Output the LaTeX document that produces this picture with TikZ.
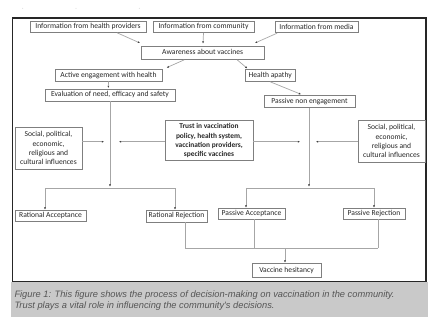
\documentclass[tikz,border=0pt]{standalone}
\usepackage{fontspec}
\setmainfont{Carlito}
\newfontfamily\capfont{Liberation Sans}
\usetikzlibrary{arrows.meta,calc}
\definecolor{boxline}{HTML}{7F7F7F}
\definecolor{connline}{HTML}{A6A6A6}
\definecolor{captxt}{HTML}{555555}
\definecolor{capbg}{HTML}{C9C9C9}
\begin{document}
\begin{tikzpicture}[x=1pt,y=-1pt,
  box/.style={draw=boxline, line width=0.7pt, inner sep=0pt, align=center,
    font=\fontsize{7.6}{9.2}\selectfont, text=black!85,
    text height=5.4pt, text depth=1.7pt},
  mbox/.style={draw=boxline, line width=0.7pt, inner sep=0pt, align=center,
    font=\fontsize{7.6}{9.2}\selectfont, text=black!85},
  conn/.style={draw=connline, line width=0.7pt},
  arr/.style={conn, -{Latex[length=2.2pt,width=2pt,color=black!75]}},
]
\useasboundingbox (0,0) rectangle (439,331);
% faint marks at top
\foreach \px in {22.7,76,139.3} \fill[black!30] (\px,8.3) circle (0.4);
% caption band
\fill[capbg] (11,282.3) rectangle (427.5,316.7);
% frame
\draw[line width=1.6pt, black!85] (12.5,18) rectangle (426,281.5);

% nodes
\node[box, minimum width=116pt, minimum height=10.8pt] (hp)  at (88,27.1)   {Information from health providers};
\node[box, minimum width=101pt, minimum height=10.8pt] (com) at (203.5,27.1) {Information from community};
\node[box, minimum width=83pt,  minimum height=11.2pt] (med) at (316.5,27.2) {Information from media};
\node[box, minimum width=122.5pt, minimum height=13.2pt] (aw) at (202.7,52.9) {Awareness about vaccines};
\node[box, minimum width=107pt, minimum height=11.5pt] (act) at (108.5,75.2) {Active engagement with health};
\node[box, minimum width=130pt, minimum height=12pt]   (eva) at (110,95)    {Evaluation of need, efficacy and safety};
\node[box, minimum width=50.5pt, minimum height=12.5pt] (apa) at (270.2,75.2) {Health apathy};
\node[box, minimum width=91pt,  minimum height=12.3pt] (pne) at (309.5,101.2) {Passive non engagement};
\node[mbox, minimum width=67pt, minimum height=42pt] (socL) at (48.5,148)
  {Social, political,\\ economic,\\ religious and\\ cultural influences};
\node[mbox, minimum width=88pt, minimum height=39.5pt, font=\fontsize{7.4}{9.1}\selectfont\bfseries] (trust) at (209,140.6)
  {Trust in vaccination\\ policy, health system,\\ vaccination providers,\\ specific vaccines};
\node[mbox, minimum width=67pt, minimum height=42pt] (socR) at (391.5,141)
  {Social, political,\\ economic,\\ religious and\\ cultural influences};
\node[box, minimum width=71pt, minimum height=11.7pt] (ra) at (50.5,215.8) {Rational Acceptance};
\node[box, minimum width=61pt, minimum height=12pt]   (rr) at (176.5,216)  {Rational Rejection};
\node[box, minimum width=67pt, minimum height=11pt]   (pa) at (251.5,213.5) {Passive Acceptance};
\node[box, minimum width=62pt, minimum height=11pt]   (pr) at (374,213.5)  {Passive Rejection};
\node[box, minimum width=69pt, minimum height=14.7pt] (vh) at (286.5,270.3) {Vaccine hesitancy};

% caption
\node[anchor=base west, inner sep=0pt, text=captxt, font=\capfont\itshape\fontsize{9.3}{11}\selectfont] (cap1) at (14.3,297.6)
  {Figure 1: This figure shows the process of decision-making on vaccination in the community.};
\node[anchor=base west, inner sep=0pt, text=captxt, font=\capfont\itshape\fontsize{9.3}{11}\selectfont] (cap2) at (14.3,308.8)
  {Trust plays a vital role in influencing the community's decisions.};

% helper coordinates
\coordinate (awL)  at (140,43);
\coordinate (awC)  at (203,43.6);
\coordinate (awR)  at (255,43);
\coordinate (actT) at (166.7,67.6);
\coordinate (apaT) at (247.3,68.4);
\coordinate (evaT) at (108.3,88);
\coordinate (pneT) at (301,94.3);
\coordinate (jL)   at (110,186.6);
\coordinate (jR)   at (309,186.6);
\coordinate (dotLa) at (104,141.7);
\coordinate (dotLb) at (119,141.7);
\coordinate (dotRa) at (300,141.7);
\coordinate (dotRb) at (316,141.7);
\coordinate (brL1) at (45,188.3);
\coordinate (brL2) at (175,188.3);
\coordinate (brR1) at (246,188);
\coordinate (brR2) at (374,188);
\coordinate (bot1) at (185,248);
\coordinate (bot2) at (254,248);
\coordinate (bot3) at (378,248);
\coordinate (botC) at (285,248);

% top connectors
\draw[arr] ($(hp.south west)!0.75!(hp.south east)$) -- (awL);
\draw[arr] (com.south) -- (awC);
\draw[arr] ($(med.south west)!0.03!(med.south east)$) -- (awR);
\draw[arr] ($(aw.south west)!0.35!(aw.south east)$) -- (actT);
\draw[arr] ($(aw.south west)!0.78!(aw.south east)$) -- (apaT);
\draw[arr] (act.south) -- (evaT);
\draw[arr] ($(apa.south west)!0.5!(apa.south east)$) -- (pneT);

% vertical trunks
\draw[arr] (eva.south) -- (jL);
\draw[arr] (pne.south -| jR) -- (jR);

% side influences
\draw[arr] (socL.east |- dotLa) -- (dotLa);
\draw[arr] (trust.west |- dotLb) -- (dotLb);
\draw[arr] (trust.east |- dotRa) -- (dotRa);
\draw[arr] (socR.west |- dotRb) -- (dotRb);

% branches
\draw[conn] (brL1) -- (brL2);
\draw[arr] (brL1) -- (ra.north -| brL1);
\draw[arr] (brL2) -- (rr.north -| brL2);
\draw[conn] (brR1) -- (brR2);
\draw[arr] (brR1) -- (pa.north -| brR1);
\draw[arr] (brR2) -- (pr.north -| brR2);

% bottom merge
\draw[conn] (rr.south -| bot1) -- (bot1) -- (bot3);
\draw[conn] (pa.south -| bot2) -- (bot2);
\draw[conn] (pr.south -| bot3) -- (bot3);
\draw[arr] (botC) -- (vh.north -| botC);
\end{tikzpicture}
\end{document}
